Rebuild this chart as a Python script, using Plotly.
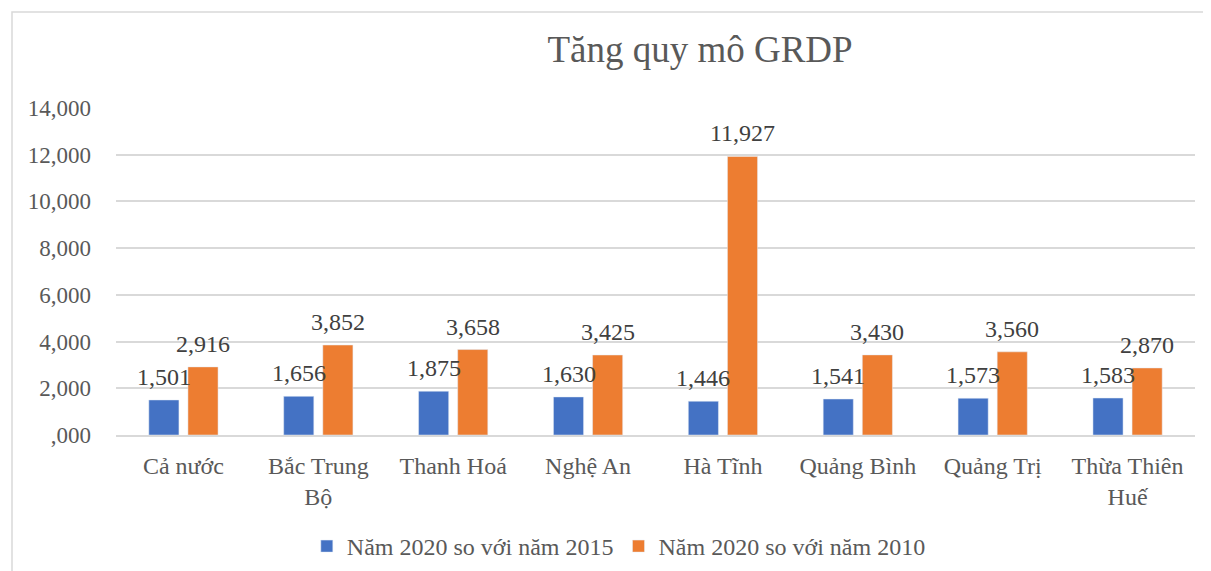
import plotly.graph_objects as go

categories = ["Cả nước", "Bắc Trung<br>Bộ", "Thanh Hoá", "Nghệ An", "Hà Tĩnh",
              "Quảng Bình", "Quảng Trị", "Thừa Thiên<br>Huế"]
series_2015 = [1.501, 1.656, 1.875, 1.630, 1.446, 1.541, 1.573, 1.583]
series_2010 = [2.916, 3.852, 3.658, 3.425, 11.927, 3.430, 3.560, 2.870]
name_2015 = "Năm 2020 so với năm 2015"
name_2010 = "Năm 2020 so với năm 2010"
tick_vals = [0, 2, 4, 6, 8, 10, 12, 14]
tick_text = [",000", "2,000", "4,000", "6,000", "8,000", "10,000", "12,000", "14,000"]
title_text = "Tăng quy mô GRDP"

FONT = "Liberation Serif, Times New Roman, serif"
GREY = "#595959"
LABEL = "#404040"

# page body has an 8px default margin
W, H = 1203, 563
ML, MR, MT, MB = 108, 16, 100, 136
BARGAP, BARGROUPGAP = 0.42, 0.23
plot_w = W - ML - MR
plot_h = H - MT - MB
cat_px = plot_w / len(categories)
slot = (1 - BARGAP) / 2
offset_px = slot / 2 * cat_px

fig = go.Figure()
fig.add_trace(go.Bar(x=categories, y=series_2015, name=name_2015, marker_color="#4472C4"))
fig.add_trace(go.Bar(x=categories, y=series_2010, name=name_2010, marker_color="#ED7D31"))

for series, shift in ((series_2015, -offset_px), (series_2010, offset_px)):
    for c, v in zip(categories, series):
        fig.add_annotation(x=c, y=v, text=f"{v:.3f}".replace(".", ","), showarrow=False,
                           xanchor="center", yanchor="bottom", xshift=shift, yshift=8,
                           font=dict(family=FONT, size=24, color=LABEL))

fig.update_layout(
    width=W, height=H,
    margin=dict(l=ML, r=MR, t=MT, b=MB, autoexpand=False),
    paper_bgcolor="white", plot_bgcolor="white",
    separators=",.",
    barmode="group", bargap=BARGAP, bargroupgap=BARGROUPGAP,
    font=dict(family=FONT, size=23, color=GREY),
    title=dict(text=title_text, x=(692 - ML) / plot_w, xref="paper", y=1 - 41 / H, yref="container",
               xanchor="center", yanchor="middle",
               font=dict(family=FONT, size=37, color=GREY)),
    legend=dict(orientation="h", x=0.466, xanchor="center", y=(427 - 516) / plot_h, yanchor="top",
                font=dict(family=FONT, size=24, color=GREY), itemwidth=30),
    showlegend=True,
)
fig.update_yaxes(range=[0, 14], tickvals=tick_vals, ticktext=tick_text,
                 showgrid=True, gridcolor="#D9D9D9", gridwidth=1.5, zeroline=False,
                 showline=False, ticks="", ticklabelstandoff=24,
                 tickfont=dict(family=FONT, size=23, color=GREY))
fig.update_xaxes(showline=True, linecolor="#D9D9D9", linewidth=1.5, ticks="",
                 tickfont=dict(family=FONT, size=24, color=GREY), ticklabelstandoff=8)
fig.add_shape(type="rect", xref="paper", yref="paper",
              x0=(4 - ML) / plot_w, x1=1.3, y0=-0.6, y1=(427 - 4) / plot_h,
              line=dict(color="#D9D9D9", width=1.5), fillcolor="rgba(0,0,0,0)", layer="below")

fig.write_html("out.html")
